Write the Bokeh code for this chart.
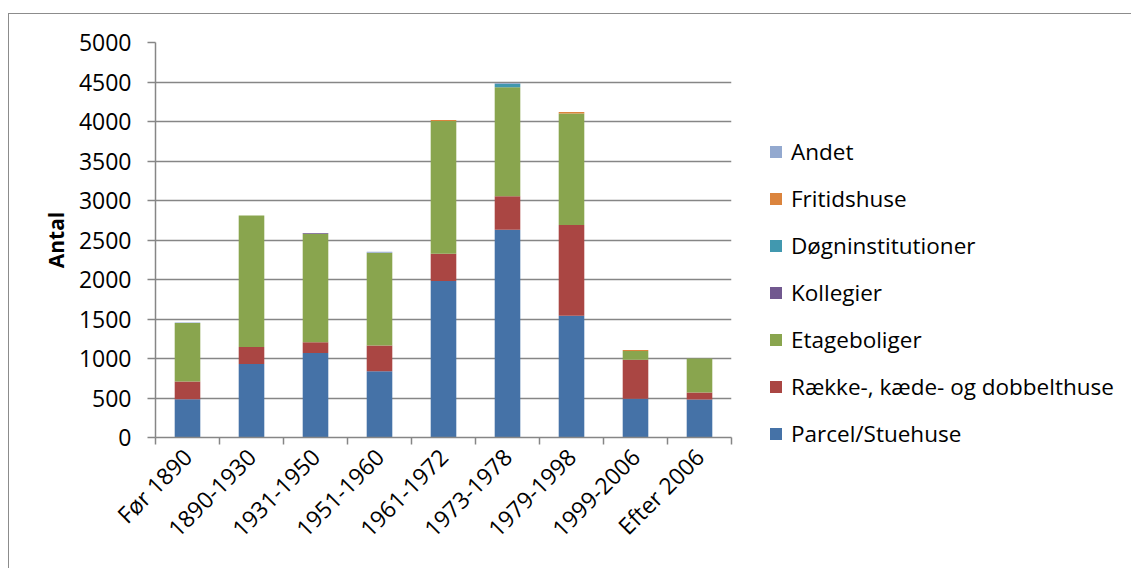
from math import pi
from bokeh.plotting import figure
from bokeh.models import (ColumnDataSource, Legend, LegendItem, FixedTicker,
                          SingleIntervalTicker)
from bokeh.embed import file_html
from bokeh.resources import INLINE

categories = ["Før 1890", "1890-1930", "1931-1950", "1951-1960", "1961-1972",
              "1973-1978", "1979-1998", "1999-2006", "Efter 2006"]
parcel = [485, 930, 1070, 840, 1980, 2630, 1540, 490, 480]
raekke = [225, 215, 135, 325, 345, 425, 1150, 495, 90]
etage = [740, 1665, 1375, 1175, 1680, 1380, 1410, 110, 430]
kollegier = [0, 0, 10, 0, 0, 0, 0, 0, 0]
doegn = [0, 0, 0, 0, 0, 42, 0, 0, 0]
fritids = [0, 0, 0, 0, 15, 0, 20, 12, 0]
andet = [5, 0, 0, 10, 0, 9, 0, 0, 0]

series_names = ["Parcel/Stuehuse", "Række-, kæde- og dobbelthuse", "Etageboliger",
                "Kollegier", "Døgninstitutioner", "Fritidshuse", "Andet"]
series_keys = ["parcel", "raekke", "etage", "kollegier", "doegn", "fritids", "andet"]
colors = ["#4572A7", "#AA4643", "#89A54E", "#71588F", "#4198AF", "#DB843D", "#93A9CF"]
y_ticks_interval = 500

xpos = [i + 0.5 for i in range(len(categories))]
source = ColumnDataSource(dict(x=xpos, parcel=parcel, raekke=raekke, etage=etage,
                               kollegier=kollegier, doegn=doegn, fritids=fritids, andet=andet))

FONT = "Open Sans"
GREY = "#868686"

p = figure(frame_width=576, frame_height=395, x_range=(0, len(categories)), y_range=(0, 5000),
           output_backend="svg", toolbar_location=None,
           min_border_left=146, min_border_top=28, min_border_bottom=131, min_border_right=0)
p.styles = {"margin-left": "8px", "margin-top": "13px",
            "border-top": "1.5px solid #8c8c8c", "border-left": "1.5px solid #8c8c8c"}
p.outline_line_color = None
p.background_fill_color = "white"
p.border_fill_color = "white"

rs = p.vbar_stack(series_keys, x="x", width=0.4, color=colors, line_color=None, source=source)

# axes
p.xgrid.visible = False
p.ygrid.grid_line_color = GREY
p.ygrid.grid_line_width = 1.5
p.yaxis.ticker = SingleIntervalTicker(interval=y_ticks_interval, num_minor_ticks=0)
p.yaxis.axis_line_color = GREY
p.yaxis.axis_line_width = 1.5
p.yaxis.major_tick_line_color = GREY
p.yaxis.major_tick_line_width = 1.5
p.yaxis.major_tick_out = 8
p.yaxis.major_tick_in = 0
p.yaxis.minor_tick_line_color = None
p.yaxis.major_label_text_font = FONT
p.yaxis.major_label_text_font_size = "23px"
p.yaxis.major_label_text_color = "black"
p.yaxis.major_label_standoff = 16
p.yaxis.axis_label = "Antal"
p.yaxis.axis_label_text_font = FONT
p.yaxis.axis_label_text_font_style = "bold"
p.yaxis.axis_label_text_font_size = "21px"
p.yaxis.axis_label_text_color = "black"
p.yaxis.axis_label_standoff = 6

p.xaxis.ticker = FixedTicker(ticks=xpos, minor_ticks=list(range(len(categories) + 1)))
p.xaxis.major_label_overrides = {x: c for x, c in zip(xpos, categories)}
p.xaxis.major_tick_line_color = None
p.xaxis.minor_tick_line_color = GREY
p.xaxis.minor_tick_line_width = 1.5
p.xaxis.minor_tick_out = 7
p.xaxis.minor_tick_in = 0
p.xaxis.axis_line_color = GREY
p.xaxis.axis_line_width = 1.5
p.xaxis.major_label_orientation = pi / 4
p.xaxis.major_label_text_font = FONT
p.xaxis.major_label_text_font_size = "23px"
p.xaxis.major_label_text_color = "black"
p.xaxis.major_label_standoff = 8

items = [LegendItem(label=n, renderers=[r]) for n, r in zip(series_names, rs)][::-1]
legend = Legend(items=items, location=(37, -12), orientation="vertical",
                glyph_width=15, glyph_height=15, label_standoff=8,
                label_text_font=FONT, label_text_font_size="22.5px", label_text_color="black",
                spacing=16, padding=0, margin=0,
                border_line_color=None, background_fill_alpha=0)
p.add_layout(legend, "right")

open("out.html", "w").write(file_html(p, INLINE))
